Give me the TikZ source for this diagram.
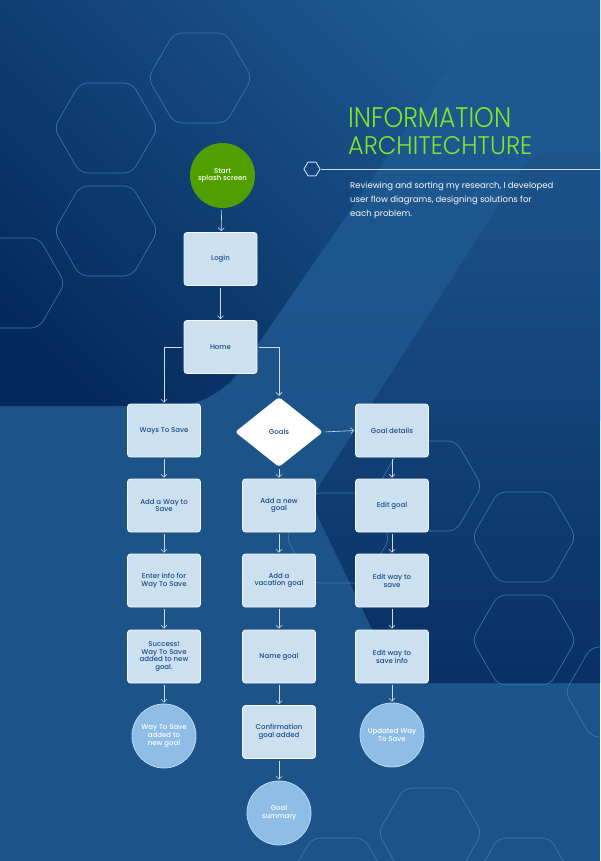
\documentclass[tikz,border=0pt]{standalone}
\usepackage{fontspec}
\setmainfont{Poppins}
\newfontfamily\lightfont{Poppins Light}
\newfontfamily\mediumfont{Poppins Medium}
\usetikzlibrary{arrows.meta,shapes.geometric}
\tikzset{>={Straight Barb[width=6pt,length=3pt]}}
\definecolor{BgBase}{RGB}{28,83,137}
\definecolor{BgTop}{RGB}{31,90,147}
\definecolor{BgDark}{RGB}{4,42,92}
\definecolor{BgRight}{RGB}{8,48,100}
\definecolor{BoxFill}{RGB}{204,224,240}
\definecolor{BoxText}{RGB}{26,76,136}
\definecolor{StartGreen}{RGB}{80,158,0}
\definecolor{EndFill}{RGB}{142,189,230}
\definecolor{TitleGreen}{RGB}{128,230,40}
\definecolor{LineColor}{RGB}{205,220,236}
\definecolor{HexLine}{RGB}{62,120,182}
\tikzset{
	screen/.style={rectangle,rounded corners=3pt,draw=white!80!BoxFill,line width=0.8pt,fill=BoxFill,text=BoxText,minimum width=73pt,minimum height=53pt,align=center,inner sep=1pt,font=\mediumfont\fontsize{7}{7.7}\selectfont},
	endpoint/.style={circle,draw=white!40!EndFill,line width=0.8pt,fill=EndFill,text=white,minimum size=64pt,align=center,inner sep=0pt,font=\mediumfont\fontsize{7}{7.7}\selectfont},
	choice/.style={diamond,rounded corners=3pt,fill=white,text=BoxText,minimum width=88pt,minimum height=70pt,inner sep=0pt,font=\mediumfont\fontsize{7}{7.7}\selectfont},
	flow/.style={->,draw=LineColor,line width=0.6pt,shorten <=2pt,shorten >=1pt},
	hexcell/.style={draw=HexLine,line width=0.6pt,rounded corners=8pt},
}

\begin{document}
\begin{tikzpicture}[x=1pt,y=-1pt]
		\useasboundingbox (0,0) rectangle (600,861);
		\clip (0,0) rectangle (600,861);

		% background panels
		\fill[BgBase] (0,0) rectangle (600,861);
		\shade[top color=BgTop,bottom color=BgBase] (0,0) rectangle (600,420);
		\shade[top color=BgTop,bottom color=BgDark,shading angle=-45,rounded corners=40pt] (-50,-50) -- (530,-50) -- (215,406) -- (-50,406) -- cycle;
		\shade[top color=BgBase,bottom color=BgRight,rounded corners=20pt] (650,152) -- (533,152) -- (310,500) -- (398,683) -- (650,683) -- cycle;

		% hexagon grid
		\foreach \hx/\hy in {200/78,106/128,106/231,13/283,338/538,430/486,524/537,524/640,617/692,430/833,338/883,524/883}
			\draw[hexcell] (\hx,\hy) +(0:52) -- +(60:52) -- +(120:52) -- +(180:52) -- +(240:52) -- +(300:52) -- cycle;

		% title and text
		\node[anchor=base west,inner sep=0pt,text=TitleGreen] (title1) at (348,128) {\resizebox{163pt}{20pt}{\lightfont INFORMATION}};
		\node[anchor=base west,inner sep=0pt,text=TitleGreen] (title2) at (348,154) {\resizebox{184pt}{18pt}{\lightfont ARCHITECHTURE}};
		\node[regular polygon,regular polygon sides=6,draw=LineColor,line width=0.9pt,minimum size=16pt,inner sep=0pt] (knob) at (312,169) {};
		\coordinate (lineend) at (600,169);
		\draw[LineColor,line width=0.9pt] (knob.east) -- (lineend);
		\node[anchor=north west,inner sep=0pt,align=left,text=white!90!BoxFill,font=\fontsize{8.5}{14}\selectfont] (intro) at (350,182) {Reviewing and sorting my research, I developed\\user flow diagrams, designing solutions for\\each problem.};

		% entry
		\node[circle,fill=StartGreen,text=white,minimum size=65pt,inner sep=0pt,align=center,font=\mediumfont\fontsize{7}{7.7}\selectfont] (start) at (222.5,175.5) {Start\\splash screen};
		\node[screen] (login) at (220.5,259) {Login};
		\node[screen] (home) at (220.5,347) {Home};

		% ways to save column
		\node[screen] (ways) at (164,430.5) {Ways To Save};
		\node[screen] (addway) at (164,505.5) {Add a Way to\\Save};
		\node[screen] (enterinfo) at (164,580.5) {Enter info for\\Way To Save};
		\node[screen] (success) at (164,656.5) {Success!\\Way To Save\\added to new\\goal.};
		\node[endpoint] (waysaved) at (164,736) {Way To Save\\added to\\new goal};

		% goals column
		\node[choice] (goals) at (279,432) {Goals};
		\node[screen] (addgoal) at (279,505.5) {Add a new\\goal};
		\node[screen] (vacation) at (279,580.5) {Add a\\vacation goal};
		\node[screen] (namegoal) at (279,656.5) {Name goal};
		\node[screen] (confirm) at (279,732) {Confirmation\\goal added};
		\node[endpoint] (summary) at (279,813) {Goal\\summary};

		% goal details column
		\node[screen] (details) at (392,430.5) {Goal details};
		\node[screen] (editgoal) at (392,505.5) {Edit goal};
		\node[screen] (editway) at (392,580.5) {Edit way to\\save};
		\node[screen] (editinfo) at (392,656.5) {Edit way to\\save info};
		\node[endpoint] (updated) at (392,735) {Updated Way\\To Save};

		% connectors
		\draw[flow] (start) -- (login);
		\draw[flow] (login) -- (home);
		\draw[flow] (home.west) -| (ways.north);
		\draw[flow] (home.east) -| (goals.north);
		\draw[flow] (goals.east) -- (details.west);

		\draw[flow] (ways) -- (addway);
		\draw[flow] (addway) -- (enterinfo);
		\draw[flow] (enterinfo) -- (success);
		\draw[flow] (success) -- (waysaved);

		\draw[flow] (goals) -- (addgoal);
		\draw[flow] (addgoal) -- (vacation);
		\draw[flow] (vacation) -- (namegoal);
		\draw[flow] (namegoal) -- (confirm);
		\draw[flow] (confirm) -- (summary);

		\draw[flow] (details) -- (editgoal);
		\draw[flow] (editgoal) -- (editway);
		\draw[flow] (editway) -- (editinfo);
		\draw[flow] (editinfo) -- (updated);

	\end{tikzpicture}
\end{document}
